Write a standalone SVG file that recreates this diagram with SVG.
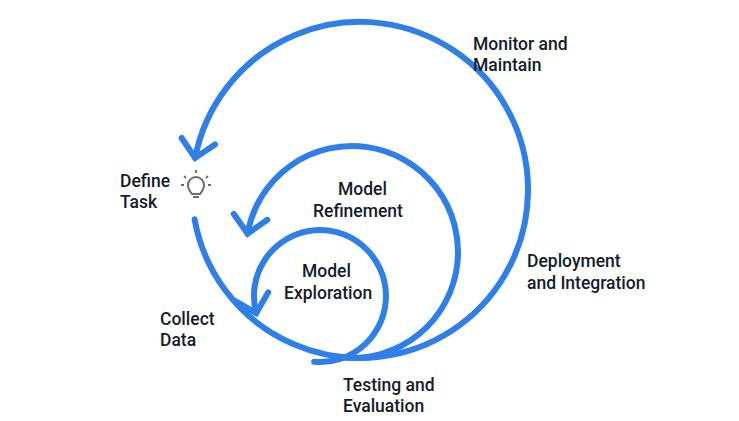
<svg xmlns="http://www.w3.org/2000/svg" width="739" height="421" viewBox="0 0 739 421">
<style>
.a{fill:none;stroke:#2f7fe8;stroke-width:6;stroke-linecap:round}
text{font-family:Roboto,"Liberation Sans",sans-serif;font-size:17.5px;font-weight:500;fill:#141c2a}
</style>
<defs>
<marker id="m" markerUnits="userSpaceOnUse" markerWidth="50" markerHeight="50" refX="25" refY="25" orient="auto" viewBox="0 0 50 50">
<path d="M8 8 L25 25 L8 42" fill="none" stroke="#2f7fe8" stroke-width="6" stroke-linecap="round" stroke-linejoin="miter"/>
</marker>
</defs>
<rect width="739" height="421" fill="#fff"/>
<g id="connectors">
<path class="a" d="M194.6 219.2 A168 168 0 1 0 195.1 157.9" marker-end="url(#m)"/>
<path class="a" d="M342.8 357.6 A106 106 0 1 0 247.6 233.6" marker-end="url(#m)"/>
<path class="a" d="M314.2 361.8 A66 66 0 1 0 256.2 313.1" marker-end="url(#m)"/>
</g>
<g id="bulb" fill="none" stroke="#6b6b6b" stroke-width="2">
<path d="M192 194 Q188 189 188 185 A8 8 0 1 1 204 185 Q204 189 200 194 Z"/>
<line x1="193" y1="197" x2="199" y2="197"/>
<line x1="196" y1="170" x2="196" y2="173"/>
<line x1="184" y1="176" x2="186" y2="178"/>
<line x1="208" y1="176" x2="206" y2="178"/>
<line x1="181" y1="185" x2="184" y2="185"/>
<line x1="208" y1="185" x2="211" y2="185"/>
</g>
<g id="monitor"><text x="473" y="50">Monitor and</text><text x="473" y="71">Maintain</text></g>
<g id="define"><text x="120" y="187">Define</text><text x="120" y="208">Task</text></g>
<g id="refinement"><text x="338" y="195">Model</text><text x="313" y="217">Refinement</text></g>
<g id="deploy"><text x="527" y="267">Deployment</text><text x="527" y="289">and Integration</text></g>
<g id="exploration"><text x="302" y="277">Model</text><text x="284" y="299">Exploration</text></g>
<g id="collect"><text x="160" y="325">Collect</text><text x="160" y="346">Data</text></g>
<g id="testing"><text x="343" y="391">Testing and</text><text x="343" y="412">Evaluation</text></g>
</svg>
